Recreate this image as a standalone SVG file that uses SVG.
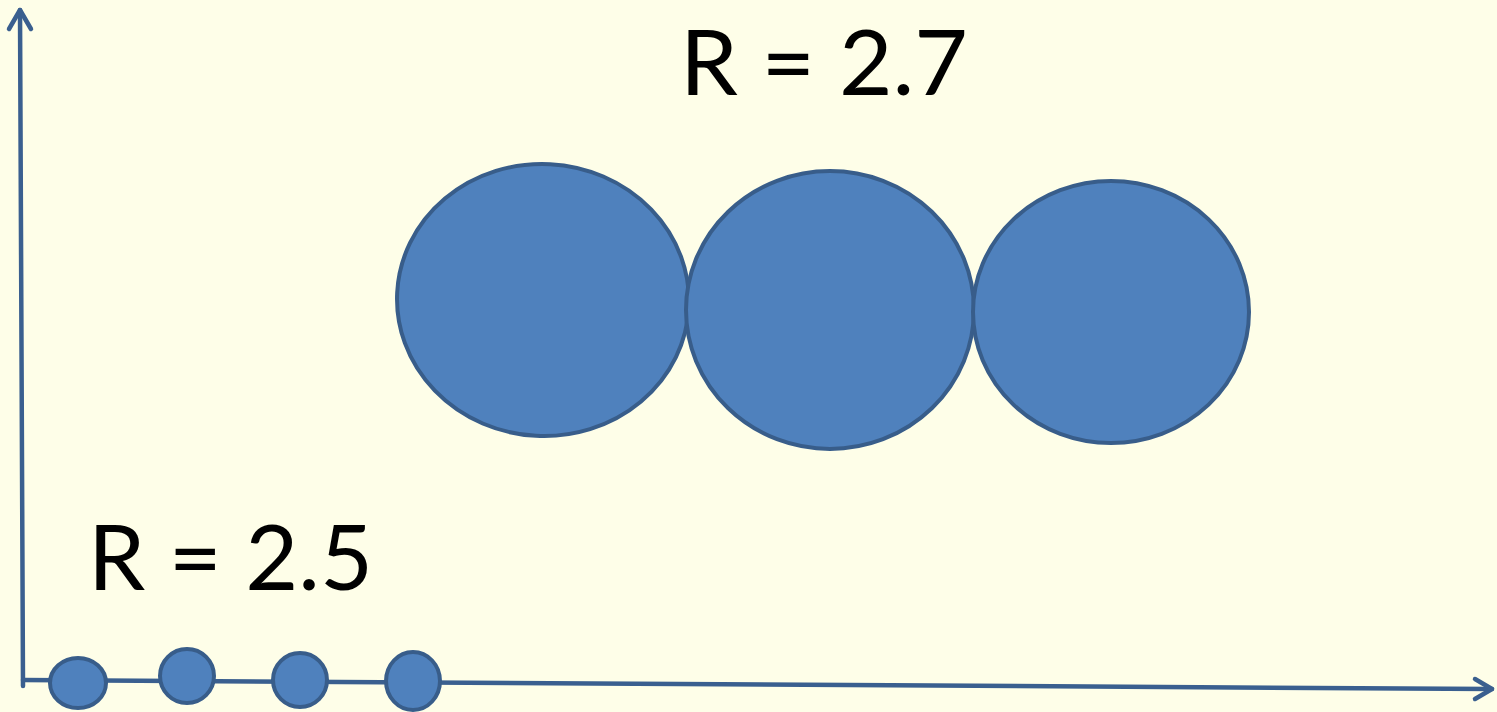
<svg xmlns="http://www.w3.org/2000/svg" width="1497" height="712" viewBox="0 0 1497 712">
<defs>
<style>
.c{fill:#4F81BD;stroke:#385D8A;stroke-width:4}
.ax{fill:none;stroke:#3A5F8F;stroke-width:4.5;stroke-linecap:round;stroke-linejoin:round}
.t{font-family:Lato,"Open Sans","Liberation Sans",sans-serif;font-size:92px;fill:#000}
</style>
</defs>
<rect width="1497" height="712" fill="#FEFEE8"/>
<g id="axes">
<path class="ax" d="M23,686 L20,10"/>
<path class="ax" d="M9,29 L20,10 L31,29"/>
<path class="ax" d="M23,680 L1492,689"/>
<path class="ax" d="M1475,679 L1492,689 L1475,699"/>
</g>
<g id="small">
<ellipse class="c" cx="78" cy="683" rx="28" ry="25"/>
<ellipse class="c" cx="187" cy="676" rx="27" ry="27"/>
<ellipse class="c" cx="300" cy="680" rx="27" ry="27"/>
<ellipse class="c" cx="413" cy="681" rx="27" ry="29"/>
</g>
<g id="big">
<ellipse class="c" cx="543" cy="300" rx="146" ry="136" transform="rotate(3 543 300)"/>
<ellipse class="c" cx="830" cy="310" rx="144" ry="139"/>
<ellipse class="c" cx="1111" cy="312" rx="138" ry="131"/>
</g>
<text class="t" x="680" y="95" textLength="288" lengthAdjust="spacingAndGlyphs">R = 2.7</text>
<text class="t" x="88" y="590" textLength="285" lengthAdjust="spacingAndGlyphs">R = 2.5</text>
</svg>
